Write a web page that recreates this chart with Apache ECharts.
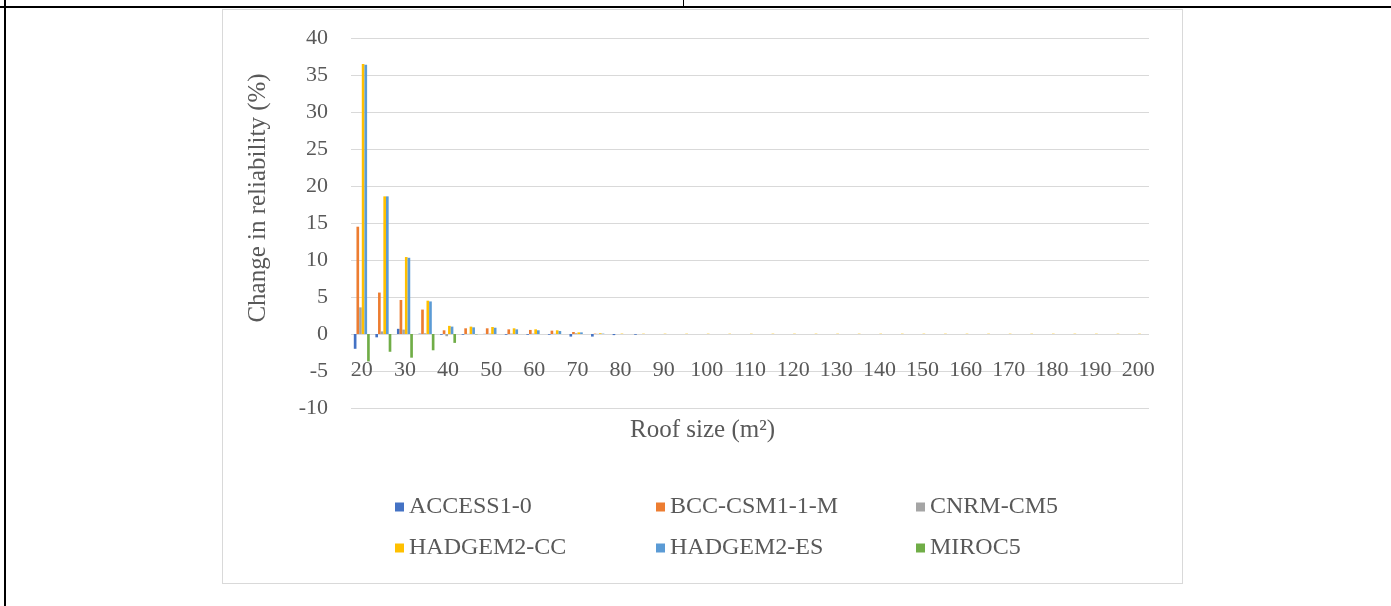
<!DOCTYPE html>
<html>
<head>
<meta charset="utf-8">
<script src="https://cdn.jsdelivr.net/npm/echarts@6/dist/echarts.min.js"></script>
<style>
html,body{margin:0;padding:0;background:#fff;width:1391px;height:606px;overflow:hidden;position:relative;}
#topline{position:absolute;left:0;top:6px;width:1391px;height:2px;background:#000;}
#leftline{position:absolute;left:4px;top:0;width:2px;height:606px;background:#000;}
#midline{position:absolute;left:683px;top:0;width:1px;height:7px;background:#000;}
#chart{position:absolute;left:222px;top:9px;width:959px;height:573px;border:1px solid #d9d9d9;}
</style>
</head>
<body>
<div id="topline"></div><div id="leftline"></div><div id="midline"></div>
<div id="chart"></div>
<script>
const categories = ['20','25','30','35','40','45','50','55','60','65','70','75','80','85','90','95','100','105','110','115','120','125','130','135','140','145','150','155','160','165','170','175','180','185','190','195','200'];
const seriesNames = ['ACCESS1-0','BCC-CSM1-1-M','CNRM-CM5','HADGEM2-CC','HADGEM2-ES','MIROC5'];
const seriesColors = ['#4472C4','#ED7D31','#A5A5A5','#FFC000','#5B9BD5','#70AD47'];
const access = [-2.0,-0.45,0.7,0.05,-0.1,-0.1,0.02,-0.1,-0.1,-0.1,-0.35,-0.35,-0.15,-0.1,0,0,0,0,0,0,0,0,0,0,0,0,0,0,0,0,0,0,0,0,0,0,0];
const bcc = [14.5,5.6,4.6,3.3,0.5,0.77,0.77,0.63,0.55,0.45,0.27,0.05,0,0,0,0,0,0,0,0,0,0,0,0,0,0,0,0,0,0,0,0,0,0,0,0,0];
const cnrm = [3.6,0.35,0.6,0.1,-0.3,0.02,0.05,0.05,0.05,0.03,0.1,0.02,0,0,0,0,0,0,0,0,0,0,0,0,0,0,0,0,0,0,0,0,0,0,0,0,0];
const hadCC = [36.5,18.6,10.4,4.5,1.1,1.0,0.95,0.77,0.63,0.5,0.22,0.1,0.05,0.04,0.04,0.04,0.04,0.04,0.04,0.04,0.04,0.04,0.04,0.04,0.04,0.04,0.04,0.04,0.04,0.04,0.04,0.04,0.04,0.04,0.04,0.04,0.04];
const hadES = [36.4,18.6,10.3,4.4,1.0,0.9,0.85,0.63,0.5,0.4,0.22,0.05,0,0,0,0,0,0,0,0,0,0,0,0,0,0,0,0,0,0,0,0,0,0,0,0,0];
const miroc = [-3.7,-2.4,-3.2,-2.2,-1.2,-0.05,0,0,0,0,0,0,0,0,0,0,0,0,0,0,0,0,0,0,0,0,0,0,0,0,0,0,0,0,0,0,0];
const yTicks = {min:-10, max:40, interval:5};

const allData = [access,bcc,cnrm,hadCC,hadES,miroc];
const FONT = '"Liberation Serif", "DejaVu Serif", serif';
const chart = echarts.init(document.getElementById('chart'), null, {renderer:'canvas'});

const legendPos = [
  {left:172, top:485},{left:433, top:485},{left:693, top:485},
  {left:172, top:526},{left:433, top:526},{left:693, top:526}
];

chart.setOption({
  animation:false,
  textStyle:{fontFamily:FONT},
  grid:{left:128, right:33, top:28, bottom:175, containLabel:false},
  legend: seriesNames.map((n,i)=>({
    data:[n], left:legendPos[i].left, top:legendPos[i].top, padding:0,
    icon:'rect', itemWidth:9, itemHeight:9, itemGap:0,
    textStyle:{fontFamily:FONT, fontSize:24, color:'#595959'},
    selectedMode:false
  })),
  xAxis:{
    type:'category', data:categories,
    offset:-74,
    axisLine:{show:false, onZero:false},
    axisTick:{show:false},
    axisLabel:{interval:1, margin:25, fontFamily:FONT, fontSize:22, color:'#595959'},
    splitLine:{show:false}
  },
  yAxis:{
    type:'value', min:yTicks.min, max:yTicks.max, interval:yTicks.interval,
    axisLine:{show:false}, axisTick:{show:false},
    axisLabel:{margin:23, fontFamily:FONT, fontSize:22, color:'#595959'},
    splitLine:{lineStyle:{color:'#d9d9d9', width:1}}
  },
  graphic:[
    {type:'text', left:'center', top:408, style:{text:'Roof size (m²)', fontFamily:FONT, fontSize:25, fill:'#595959'}},
    {type:'text', x:35, y:188, rotation:Math.PI/2, style:{text:'Change in reliability (%)', fontFamily:FONT, fontSize:25, fill:'#595959', align:'center', verticalAlign:'middle'}}
  ],
  series: seriesNames.map((n,i)=>({
    name:n, type:'bar', data:allData[i],
    itemStyle:{color:seriesColors[i]},
    barGap:'0%', barCategoryGap:'26%'
  }))
});
</script>
</body>
</html>
